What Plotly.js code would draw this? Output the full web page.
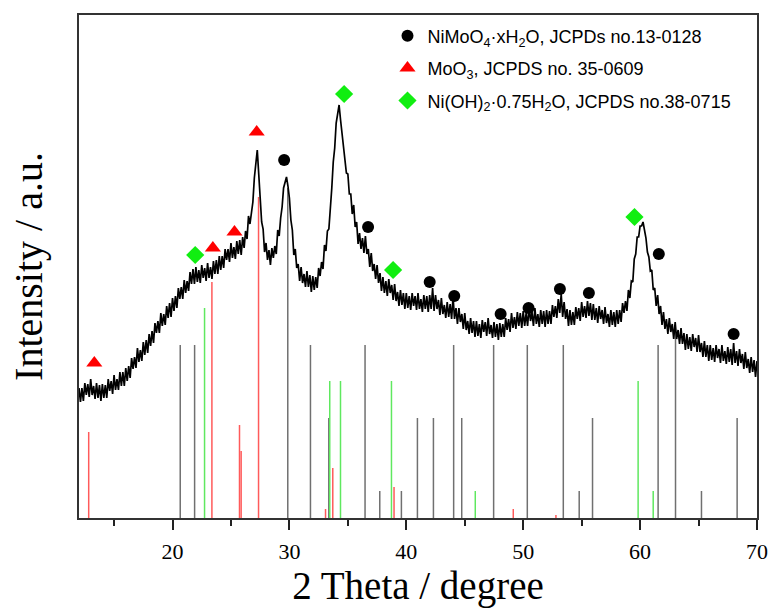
<!DOCTYPE html>
<html>
<head>
<meta charset="utf-8">
<script src="https://cdn.plot.ly/plotly-3.0.1.min.js"></script>
<style>html,body{margin:0;padding:0;background:#fff;}#chart{width:774px;height:610px;}</style>
</head>
<body>
<div id="chart"></div>
<script>
// XRD pattern: 2theta starts at 12 deg, step 0.125 deg (intensity, arbitrary units)
const scanStart = 12;
const scanStep = 0.125;
const intensity = [
130,116,130,117,135,123,134,121,139,123,132,119,135,120,133,117,
134,120,133,120,139,127,137,124,143,128,139,128,146,132,146,132,
150,137,152,140,160,149,161,150,170,156,168,157,176,163,178,165,
184,172,187,175,195,185,197,185,205,192,204,193,212,200,215,201,
220,207,222,210,230,219,231,219,238,225,237,227,246,234,249,234,
251,236,248,235,253,240,250,237,255,240,251,239,257,244,258,244,
262,248,262,250,269,258,269,256,275,260,271,259,277,264,278,263,
281,270,287,279,302,294,305,316,340,357,368,344,320,296,289,266,
275,258,268,253,270,260,272,264,288,282,300,311,330,336,341,332,
320,298,288,263,269,250,254,237,251,235,244,231,247,231,243,226,
242,228,241,230,250,242,256,249,273,267,287,289,316,330,356,370,
395,406,413,398,385,369,361,345,344,324,324,304,313,291,296,274,
285,269,280,265,282,264,269,251,265,247,254,239,253,235,245,227,
241,225,237,222,239,225,233,218,234,217,226,212,228,213,225,209,
225,210,222,208,225,212,222,208,225,209,219,206,223,209,222,206,
223,209,230,207,223,209,218,203,220,204,213,200,216,201,214,199,
221,199,210,194,210,196,204,189,205,188,197,184,200,185,197,181,
197,182,194,180,198,186,196,182,200,184,193,180,196,181,194,178,
195,181,194,181,200,188,199,186,205,190,201,189,206,192,205,190,
207,192,205,192,210,197,206,192,210,194,204,191,208,194,207,191,
208,194,207,194,213,201,212,200,219,205,224,201,216,199,209,192,
208,193,206,193,211,199,210,197,216,201,212,200,217,202,215,198,
214,198,210,195,212,199,208,194,211,195,204,191,208,193,206,191,
208,194,208,196,215,205,217,207,228,220,237,236,259,264,281,281,
292,292,296,288,280,266,261,247,248,228,230,212,223,204,212,193,
206,189,199,184,200,186,194,179,196,179,188,174,190,174,185,168,
184,169,181,167,184,171,180,166,183,166,175,161,177,161,173,157,
173,158,170,156,173,160,169,155,173,157,167,154,171,156,169,153,
175,155,167,152,169,155,164,149,166,150,159,145,161,146,158,141,
157
];

// Standard reference patterns (stick positions in 2theta and relative heights)
const nimoPos = [20.66,21.89,29.86,31.80,33.37,36.47,37.73,39.58,40.95,42.32,44.05,44.74,47.47,50.35,53.43,54.79,55.93,61.54,63.03,65.25,68.30];
const nimoH   = [173,173,330,173,100,173,27,27,100,100,173,100,173,173,173,27,100,173,186,27,100];
const moo3Pos = [12.83,23.37,25.73,25.87,27.36,33.09,33.71,38.95,49.15,52.80];
const moo3H   = [86,236,93,67,321,9,50,31,9,3];
const nioh2Pos = [22.74,33.45,34.37,38.73,45.90,59.83,61.12];
const nioh2H   = [210,137,137,137,27,137,27];

// Peak markers
const circleX = [29.55,36.73,42.0,44.1,48.07,50.46,53.14,55.62,61.6,68.0];
const circleY = [358,291,236,222,204,210,229,225,264,184];
const triX = [13.31,23.45,25.3,27.2];
const triY = [155,270,286,386];
const diaX = [21.94,34.68,38.87,59.52];
const diaY = [263,424,248,301];

const legendNames = [
  'NiMoO<sub>4</sub>·xH<sub>2</sub>O, JCPDs no.13-0128',
  'MoO<sub>3</sub>, JCPDS no. 35-0609',
  'Ni(OH)<sub>2</sub>·0.75H<sub>2</sub>O, JCPDS no.38-0715'
];

function sticks(pos, h, color) {
  const x = [], y = [];
  for (let i = 0; i < pos.length; i++) {
    x.push(pos[i], pos[i], null);
    y.push(0, h[i], null);
  }
  return {x: x, y: y, type: 'scatter', mode: 'lines', showlegend: false,
          hoverinfo: 'skip', line: {color: color, width: 1.5}};
}

const traces = [
  sticks(nimoPos, nimoH, '#707070'),
  sticks(moo3Pos, moo3H, '#ff5a5a'),
  sticks(nioh2Pos, nioh2H, '#5fe85f'),
  {y: intensity, x0: scanStart, dx: scanStep, type: 'scatter', mode: 'lines',
   showlegend: false, line: {color: '#000', width: 1.7}},
  {x: circleX, y: circleY, type: 'scatter', mode: 'markers', name: legendNames[0], legendgroup: 'a',
   marker: {symbol: 'circle', size: 12, color: '#000'}},
  {x: triX, y: triY, type: 'scatter', mode: 'markers', name: legendNames[1], legendgroup: 'b',
   marker: {symbol: 'triangle-up', size: 14, color: '#ff0000'}},
  {x: diaX, y: diaY, type: 'scatter', mode: 'markers', name: legendNames[2], legendgroup: 'c',
   marker: {symbol: 'diamond', size: 14, color: '#11ee11'}}
];

const serif = 'Liberation Serif';
const layout = {
  width: 774, height: 610,
  margin: {l: 79, r: 17, t: 15, b: 92},
  paper_bgcolor: '#fff', plot_bgcolor: '#fff',
  showlegend: true,
  legend: {x: 0.455, y: 0.995, xanchor: 'left', yanchor: 'top', bgcolor: 'rgba(0,0,0,0)',
           font: {family: 'Liberation Sans, Arial, sans-serif', size: 18, color: '#000'},
           tracegroupgap: 6, traceorder: 'grouped'},
  xaxis: {range: [12, 70], tick0: 0, dtick: 10, ticks: 'outside', ticklen: 10, tickwidth: 2,
          tickcolor: '#222', showline: true, linewidth: 2, linecolor: '#333', mirror: true,
          showgrid: false, zeroline: false, ticklabelstandoff: 3,
          tickfont: {family: serif, size: 22, color: '#000'},
          minor: {dtick: 5, ticks: 'outside', ticklen: 6, tickwidth: 2, tickcolor: '#222'},
          title: {text: '2 Theta / degree', font: {family: serif, size: 39, color: '#000'}, standoff: 0}},
  yaxis: {range: [0, 503], showticklabels: false, ticks: '', showline: true, linewidth: 2,
          linecolor: '#333', mirror: true, showgrid: false, zeroline: false,
          title: {text: 'Intensity / a.u.', font: {family: serif, size: 40, color: '#000'}, standoff: 22}}
};

Plotly.newPlot('chart', traces, layout, {displayModeBar: false, staticPlot: true});
</script>
</body>
</html>
